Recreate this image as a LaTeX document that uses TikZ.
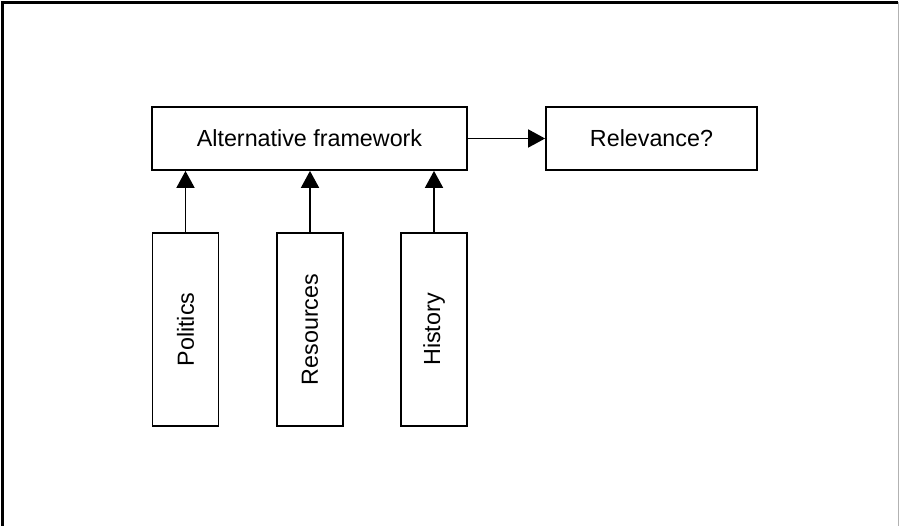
\documentclass[tikz,border=0pt]{standalone}
\usepackage{fontspec}
\setmainfont{Liberation Sans}
\usetikzlibrary{arrows.meta}
\begin{document}
\begin{tikzpicture}[x=1pt,y=-1pt,
  box/.style={draw=black, line width=1.8pt, minimum width=#1, inner sep=0pt, font=\fontsize{23.3}{27}\selectfont},
  vbox/.style={draw=black, line width=1.8pt, minimum width=193pt, minimum height=66pt, inner sep=0pt, rotate=90, font=\fontsize{23.3}{27}\selectfont},
  link/.style={line width=1.8pt, -{Triangle[length=17pt,width=18pt]}}]
\useasboundingbox (0,0) rectangle (899,526);
\draw[line width=2.4pt] (2.5,526) -- (2.5,2.5) -- (898,2.5);
\draw[line width=0.8pt, black!30] (898,2.5) -- (898,526);
\node[box=315pt, minimum height=63pt] (alt) at (309.5,138.5) {Alternative framework};
\node[box=211pt, minimum height=63pt] (rel) at (651.5,138.5) {Relevance?};
\node[vbox] (pol) at (185.5,329.5) {Politics};
\node[vbox] (res) at (310,329.5) {Resources};
\node[vbox] (his) at (434,329.5) {History};
\draw[link] (alt.east) -- (rel.west);
\draw[link] (pol.east) -- (pol.east |- alt.south);
\draw[link] (res.east) -- (res.east |- alt.south);
\draw[link] (his.east) -- (his.east |- alt.south);
\end{tikzpicture}
\end{document}
